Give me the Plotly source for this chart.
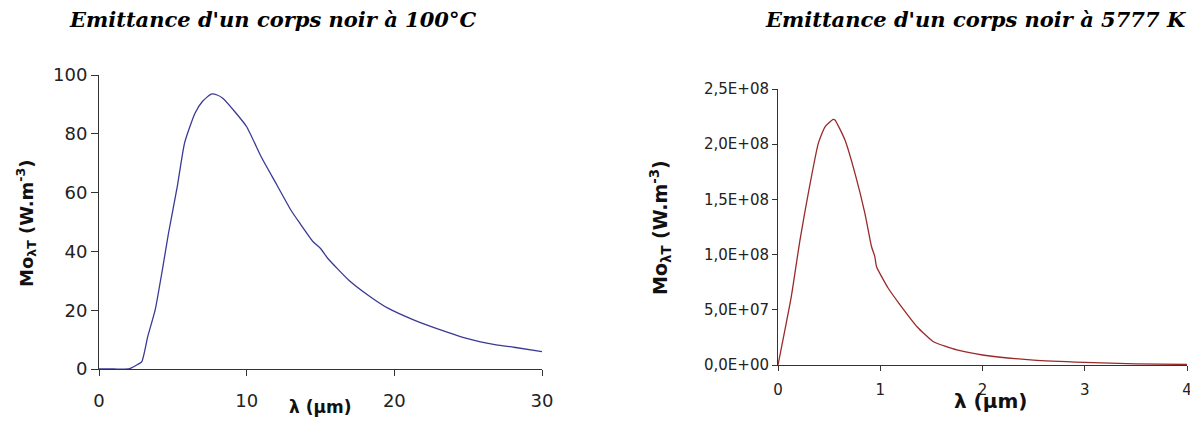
import plotly.graph_objects as go

W, H = 1198, 421
OFF = 8  # default page margin around the figure
FW, FH = W - OFF, H - OFF

# ---- Data: left chart (black body at 100 °C) ----
lam_100C = [0, 1, 2, 2.2, 2.5, 2.9, 3.3, 3.8, 4.3, 4.7, 5.3, 5.8, 6.5, 7.0, 7.6, 8.0, 8.4, 9.2, 10, 11, 12, 13, 13.6,
            14.5, 15, 15.5, 16.9, 18.2, 19.6, 21.3, 22.5, 24.9, 26.9, 28.1, 30]
mo_100C = [0, 0, 0, 0.4, 1.2, 2.5, 11, 20, 34, 46, 62, 77, 87, 91, 93.5, 93.2, 92, 87.5, 82.4, 72, 63, 54, 49.6,
           43.3, 41, 37.6, 30.3, 25.2, 20.6, 16.7, 14.4, 10.4, 8.2, 7.4, 5.9]

# ---- Data: right chart (black body at 5777 K) ----
lam_5777K = [0, 0.13, 0.215, 0.296, 0.394, 0.46, 0.54, 0.557, 0.655, 0.753, 0.85, 0.915, 0.947, 0.964,
             1.078, 1.19, 1.36, 1.52, 1.75, 2.0, 2.5, 3.0, 3.5, 4.0]
mo_5777K = [0, 0.619e8, 1.132e8, 1.555e8, 2.008e8, 2.158e8, 2.225e8, 2.22e8, 2.038e8, 1.736e8, 1.374e8,
            1.071e8, 0.981e8, 0.89e8, 0.695e8, 0.55e8, 0.347e8, 0.211e8, 0.136e8, 0.0906e8, 0.045e8, 0.024e8,
            0.01e8, 0.005e8]

# ---- Tick labels ----
left_x_ticks = [0, 10, 20, 30]
left_y_ticks = [0, 20, 40, 60, 80, 100]
right_x_ticks = [0, 1, 2, 3, 4]
right_y_vals = [0, 0.5e8, 1.0e8, 1.5e8, 2.0e8, 2.5e8]
right_y_text = ["0,0E+00", "5,0E+07", "1,0E+08", "1,5E+08", "2,0E+08", "2,5E+08"]

titles = ["Emittance d'un corps noir à 100°C", "Emittance d'un corps noir à 5777 K"]
x_title = "λ (µm)"
y_title = "Mo<sub>λT</sub> (W.m<sup>-3</sup>)"


def px_x(p):
    return (p - OFF) / FW


def px_y(p):
    return 1 - (p - OFF) / FH


fig = go.Figure()
fig.add_trace(go.Scatter(x=lam_100C, y=mo_100C, mode="lines",
                         line=dict(color="#3a3a94", width=1.3, shape="spline", smoothing=0.5),
                         xaxis="x", yaxis="y", showlegend=False, hoverinfo="skip"))
fig.add_trace(go.Scatter(x=lam_5777K, y=mo_5777K, mode="lines",
                         line=dict(color="#9a2a2a", width=1.3, shape="spline", smoothing=0.5),
                         xaxis="x2", yaxis="y2", showlegend=False, hoverinfo="skip"))

SANS = "DejaVu Sans"
tick_font = dict(family=SANS, size=18, color="#222222")
axis_common = dict(showgrid=False, zeroline=False, showline=True, linecolor="#333333", linewidth=1,
                   ticks="outside", tickcolor="#333333", tickwidth=1, mirror=False, automargin=False)

fig.update_layout(
    width=FW, height=FH,
    margin=dict(l=0, r=0, t=0, b=0, autoexpand=False),
    paper_bgcolor="white", plot_bgcolor="white",
    xaxis=dict(domain=[px_x(99), px_x(542)], range=[0, 30], tickvals=left_x_ticks, ticklen=6,
               tickfont=tick_font, ticklabelstandoff=9, anchor="y", **axis_common),
    yaxis=dict(domain=[px_y(369), px_y(75)], range=[0, 100], tickvals=left_y_ticks, ticklen=7,
               tickfont=tick_font, anchor="x", **axis_common),
    xaxis2=dict(domain=[px_x(778), px_x(1187)], range=[0, 4], tickvals=right_x_ticks, ticklen=5,
                tickfont=dict(family=SANS, size=15, color="#222222"),
                ticklabelstandoff=6, anchor="y2", **axis_common),
    yaxis2=dict(domain=[px_y(365), px_y(89)], range=[0, 2.5e8], tickvals=right_y_vals, ticktext=right_y_text,
                ticklen=5, tickfont=dict(family=SANS, size=15, color="#222222"),
                anchor="x2", **axis_common),
)

title_font = dict(family="DejaVu Serif", size=21, color="black")
ann = [
    dict(text="<b><i>" + titles[0] + "</i></b>", x=px_x(272), y=px_y(20), font=title_font),
    dict(text="<b><i>" + titles[1] + "</i></b>", x=px_x(975), y=px_y(20), font=title_font),
    dict(text="<b>" + x_title + "</b>", x=px_x(320), y=px_y(407),
         font=dict(family=SANS, size=17, color="#111111")),
    dict(text="<b>" + x_title + "</b>", x=px_x(991), y=px_y(401),
         font=dict(family=SANS, size=20, color="#111111")),
    dict(text="<b>" + y_title + "</b>", x=px_x(26), y=px_y(223), textangle=-90,
         font=dict(family=SANS, size=18, color="#111111")),
    dict(text="<b>" + y_title + "</b>", x=px_x(660), y=px_y(228), textangle=-90,
         font=dict(family=SANS, size=19, color="#111111")),
]
for a in ann:
    a.update(xref="paper", yref="paper", xanchor="center", yanchor="middle", showarrow=False)
    fig.add_annotation(**a)

fig.write_html("out.html")
